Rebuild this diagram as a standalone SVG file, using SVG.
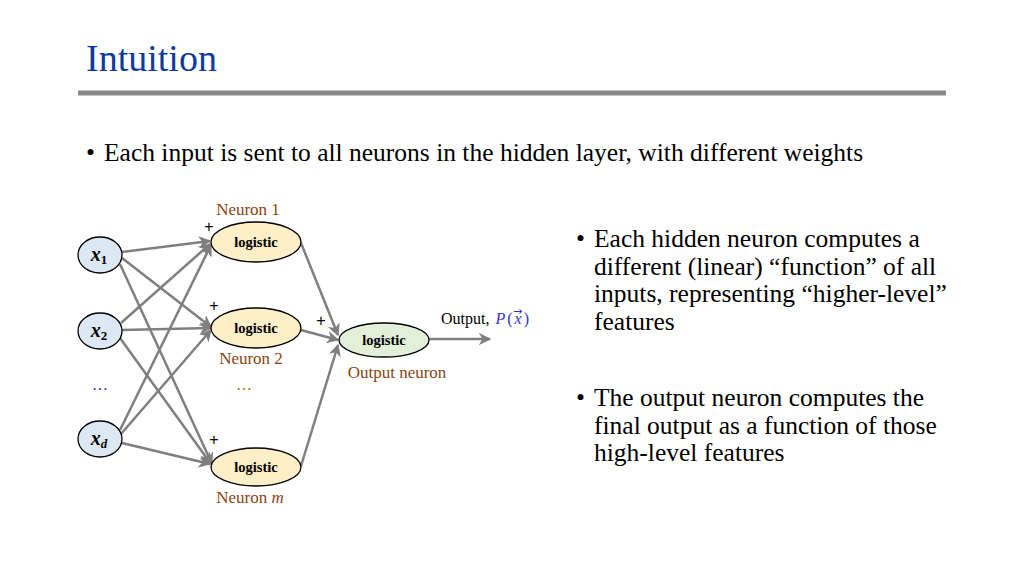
<svg xmlns="http://www.w3.org/2000/svg" width="1024" height="576" viewBox="0 0 1024 576">
<defs>
<marker id="arr" viewBox="0 0 10 10" refX="9" refY="5" markerWidth="5" markerHeight="5" orient="auto" markerUnits="strokeWidth">
<path d="M0,0 L10,5 L0,10 L3,5 z" fill="#7f7f7f"/>
</marker>
<style>
.t{font-family:"Liberation Serif","Times New Roman",serif;fill:#000}
.lbl{font-family:"Liberation Serif","Times New Roman",serif;font-size:17px;fill:#8b4513}
.log{font-family:"Liberation Serif","Times New Roman",serif;font-size:14.5px;font-weight:bold;fill:#000;text-anchor:middle}
.in{fill:#dde8f5;stroke:#000;stroke-width:1.3}
.hid{fill:#fdefc8;stroke:#000;stroke-width:1.3}
.out{fill:#e2efd9;stroke:#000;stroke-width:1.3}
.c{stroke:#7f7f7f;stroke-width:2.5;fill:none;marker-end:url(#arr)}
.plus{font-family:"Liberation Sans",Arial,sans-serif;font-size:16px;fill:#000;text-anchor:middle}
.var{font-family:"Liberation Serif","Times New Roman",serif;font-size:20px;font-weight:bold;font-style:italic;fill:#000;text-anchor:middle}
</style>
</defs>
<rect width="1024" height="576" fill="#fff"/>
<text x="86" y="71" class="t" style="font-size:38px;fill:#0f3c9c">Intuition</text>
<rect x="78" y="90.5" width="868" height="5" fill="#8a8a8a"/>
<text x="86" y="161" class="t" style="font-size:25.5px">•</text>
<text x="104" y="161" class="t" style="font-size:25.5px">Each input is sent to all neurons in the hidden layer, with different weights</text>

<g id="connectors">
<line class="c" x1="122" y1="252" x2="210" y2="241"/>
<line class="c" x1="122" y1="258" x2="211" y2="327"/>
<line class="c" x1="120" y1="264" x2="212" y2="464"/>
<line class="c" x1="121" y1="323" x2="210" y2="244"/>
<line class="c" x1="122" y1="330" x2="211" y2="328"/>
<line class="c" x1="120" y1="338" x2="211" y2="464"/>
<line class="c" x1="120" y1="430" x2="211" y2="245"/>
<line class="c" x1="121" y1="434" x2="211" y2="330"/>
<line class="c" x1="122" y1="443" x2="210" y2="464"/>
<line class="c" x1="301" y1="243" x2="338" y2="335"/>
<line class="c" x1="301" y1="330" x2="338" y2="340"/>
<line class="c" x1="301" y1="466" x2="338" y2="345"/>
<line class="c" x1="428" y1="339" x2="490" y2="339"/>
</g>

<g id="x1"><ellipse class="in" cx="100" cy="255" rx="22" ry="18"/><text class="var" x="99" y="261">x<tspan font-size="13" font-style="normal" dy="3">1</tspan></text></g>
<g id="x2"><ellipse class="in" cx="100" cy="331" rx="22" ry="18"/><text class="var" x="99" y="337">x<tspan font-size="13" font-style="normal" dy="3">2</tspan></text></g>
<g id="xd"><ellipse class="in" cx="100" cy="439" rx="22" ry="18"/><text class="var" x="99" y="445">x<tspan font-size="13" dy="3">d</tspan></text></g>
<text x="100" y="390" style="font-family:'Liberation Serif',serif;font-size:16px;fill:#3030c0" text-anchor="middle">…</text>

<g id="neuron1"><ellipse class="hid" cx="256" cy="242" rx="45" ry="20"/><text class="log" x="256" y="247">logistic</text>
<text class="lbl" x="248" y="215" text-anchor="middle">Neuron 1</text><text class="plus" x="209" y="232">+</text></g>
<g id="neuron2"><ellipse class="hid" cx="256" cy="328" rx="45" ry="20"/><text class="log" x="256" y="333">logistic</text>
<text class="lbl" x="251" y="364" text-anchor="middle">Neuron 2</text><text class="plus" x="214" y="311">+</text></g>
<text x="244" y="390" style="font-family:'Liberation Serif',serif;font-size:16px;fill:#b07000" text-anchor="middle">…</text>
<g id="neuronm"><ellipse class="hid" cx="256" cy="467" rx="45" ry="19"/><text class="log" x="256" y="472">logistic</text>
<text class="lbl" x="250" y="503" text-anchor="middle">Neuron <tspan font-style="italic">m</tspan></text><text class="plus" x="214" y="445">+</text></g>
<g id="output"><ellipse class="out" cx="384" cy="340" rx="45" ry="17"/><text class="log" x="384" y="345">logistic</text>
<text class="lbl" x="397" y="378" text-anchor="middle">Output neuron</text><text class="plus" x="321" y="326">+</text>
<text x="441" y="324" class="t" style="font-size:16px">Output, <tspan font-style="italic" fill="#3333cc" dx="2">P</tspan><tspan fill="#3333cc" dx="2">(</tspan><tspan font-style="italic" fill="#3333cc" dx="2">x</tspan><tspan fill="#3333cc" dx="2">)</tspan></text>
<path d="M514,311.5 H522 M519.5,309.5 L522,311.5 L519.5,313.5" stroke="#3333cc" stroke-width="1" fill="none"/></g>

<g class="t" style="font-size:25.5px">
<text x="576" y="247">•</text>
<text x="594" y="247">Each hidden neuron computes a</text>
<text x="594" y="275">different (linear) “function” of all</text>
<text x="594" y="302">inputs, representing “higher-level”</text>
<text x="594" y="330">features</text>
<text x="576" y="406">•</text>
<text x="594" y="406">The output neuron computes the</text>
<text x="594" y="434">final output as a function of those</text>
<text x="594" y="461">high-level features</text>
</g>
</svg>
